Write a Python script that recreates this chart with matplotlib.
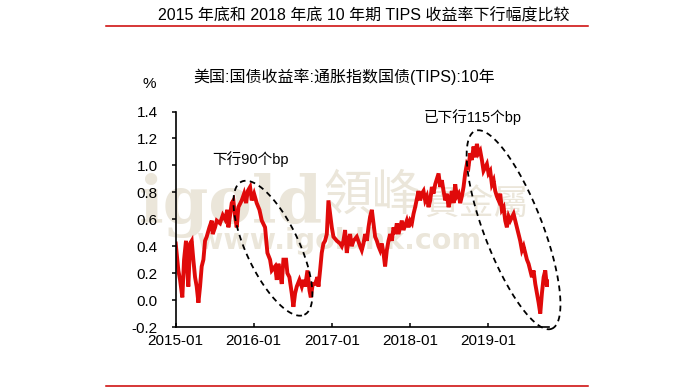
import numpy as np
import pandas as pd
import matplotlib
matplotlib.use("Agg")
import matplotlib.pyplot as plt
import matplotlib.dates as mdates
from matplotlib.lines import Line2D

plt.rcParams['font.family'] = ['Liberation Sans', 'Noto Sans CJK SC']
plt.rcParams['axes.unicode_minus'] = False

# =============================================================================
# Data (decimal year, 10y TIPS yield in %)
# =============================================================================
yrs_2015 = [2015.000, 2015.034, 2015.056, 2015.085, 2015.107, 2015.132, 2015.150,
            2015.162, 2015.184, 2015.205, 2015.226, 2015.248, 2015.269, 2015.291,
            2015.312, 2015.333, 2015.355, 2015.376, 2015.397, 2015.432, 2015.462,
            2015.474, 2015.504, 2015.526, 2015.568, 2015.603, 2015.632, 2015.662,
            2015.675, 2015.697, 2015.718, 2015.739, 2015.761, 2015.782, 2015.803,
            2015.846, 2015.876, 2015.902, 2015.923, 2015.953, 2015.974]
val_2015 = [0.42, 0.22, 0.15, 0.02, 0.30, 0.44, 0.20,
            0.10, 0.42, 0.44, 0.30, 0.17, 0.10, -0.02,
            0.10, 0.25, 0.30, 0.44, 0.47, 0.54, 0.59,
            0.49, 0.54, 0.59, 0.57, 0.63, 0.60, 0.67,
            0.54, 0.63, 0.72, 0.74, 0.62, 0.54, 0.69,
            0.74, 0.79, 0.72, 0.81, 0.84, 0.74]

yrs_2016 = [2016.004, 2016.038, 2016.073, 2016.103, 2016.145, 2016.175, 2016.209,
            2016.231, 2016.273, 2016.295, 2016.316, 2016.337, 2016.359, 2016.380,
            2016.414, 2016.431, 2016.457, 2016.487, 2016.508, 2016.530, 2016.551,
            2016.585, 2016.615, 2016.637, 2016.658, 2016.688, 2016.714, 2016.731,
            2016.756, 2016.786, 2016.816, 2016.829, 2016.850, 2016.871, 2016.893,
            2016.914, 2016.936, 2016.957, 2016.978]
val_2016 = [0.79, 0.72, 0.67, 0.59, 0.54, 0.35, 0.30,
            0.22, 0.25, 0.15, 0.27, 0.20, 0.12, 0.30,
            0.30, 0.20, 0.17, 0.05, -0.05, 0.05, 0.10,
            0.15, 0.10, 0.15, 0.10, 0.22, 0.07, 0.02,
            0.12, 0.12, 0.17, 0.10, 0.22, 0.35, 0.42,
            0.44, 0.49, 0.74, 0.64]

yrs_2017 = [2017.000, 2017.021, 2017.064, 2017.106, 2017.128, 2017.149, 2017.170,
            2017.192, 2017.213, 2017.234, 2017.256, 2017.278, 2017.320, 2017.363,
            2017.384, 2017.406, 2017.427, 2017.449, 2017.470, 2017.491, 2017.513,
            2017.534, 2017.555, 2017.577, 2017.598, 2017.619, 2017.641, 2017.662,
            2017.683, 2017.705, 2017.726, 2017.748, 2017.769, 2017.791, 2017.812,
            2017.833, 2017.855, 2017.876, 2017.897, 2017.919, 2017.961, 2017.983]
val_2017 = [0.54, 0.47, 0.44, 0.42, 0.40, 0.44, 0.52,
            0.35, 0.44, 0.49, 0.40, 0.44, 0.47, 0.40,
            0.37, 0.42, 0.49, 0.44, 0.54, 0.62, 0.67,
            0.57, 0.47, 0.44, 0.40, 0.37, 0.42, 0.35,
            0.25, 0.37, 0.44, 0.49, 0.44, 0.54, 0.49,
            0.57, 0.49, 0.54, 0.59, 0.52, 0.59, 0.54]

yrs_2018 = [2018.004, 2018.026, 2018.047, 2018.068, 2018.111, 2018.132, 2018.154,
            2018.175, 2018.196, 2018.218, 2018.239, 2018.261, 2018.282, 2018.303,
            2018.325, 2018.368, 2018.389, 2018.410, 2018.432, 2018.453, 2018.474,
            2018.496, 2018.517, 2018.538, 2018.560, 2018.581, 2018.602, 2018.624,
            2018.645, 2018.666, 2018.688, 2018.709, 2018.731, 2018.752, 2018.773,
            2018.794, 2018.816, 2018.837, 2018.859, 2018.880, 2018.901, 2018.923,
            2018.944, 2018.987]
val_2018 = [0.59, 0.57, 0.64, 0.69, 0.81, 0.74, 0.79,
            0.81, 0.74, 0.77, 0.69, 0.74, 0.84, 0.79,
            0.86, 0.94, 0.84, 0.89, 0.81, 0.74, 0.79,
            0.69, 0.74, 0.81, 0.72, 0.86, 0.77, 0.79,
            0.72, 0.77, 0.84, 0.94, 1.01, 0.99, 1.09,
            1.04, 1.14, 1.06, 1.16, 1.09, 1.11, 1.04,
            0.96, 1.01]

yrs_2019 = [2019.008, 2019.030, 2019.051, 2019.073, 2019.094, 2019.115, 2019.137,
            2019.158, 2019.179, 2019.201, 2019.222, 2019.243, 2019.265, 2019.286,
            2019.329, 2019.350, 2019.372, 2019.414, 2019.436, 2019.457, 2019.479,
            2019.500, 2019.521, 2019.543, 2019.564, 2019.585, 2019.607, 2019.628,
            2019.650, 2019.671, 2019.692, 2019.714, 2019.735, 2019.756, 2019.778,
            2019.790]
val_2019 = [0.94, 0.96, 0.86, 0.89, 0.81, 0.77, 0.74,
            0.79, 0.67, 0.69, 0.59, 0.54, 0.62, 0.59,
            0.64, 0.59, 0.54, 0.44, 0.37, 0.40, 0.35,
            0.30, 0.27, 0.22, 0.17, 0.22, 0.12, 0.05,
            -0.02, -0.10, 0.05, 0.17, 0.22, 0.10, 0.15,
            0.12]

yrs = np.array(yrs_2015 + yrs_2016 + yrs_2017 + yrs_2018 + yrs_2019)
vals = np.array(val_2015 + val_2016 + val_2017 + val_2018 + val_2019)
dates = pd.Timestamp('2015-01-01') + pd.to_timedelta((yrs - 2015) * 365.25, unit='D')

tick_dates = ['2015-01-01', '2016-01-01', '2017-01-01', '2018-01-01', '2019-01-01']
tick_labels = ['2015-01', '2016-01', '2017-01', '2018-01', '2019-01']
y_ticks = [-0.2, 0.0, 0.2, 0.4, 0.6, 0.8, 1.0, 1.2, 1.4]

# ellipse annotations: centre (date, value), semi axes (px), angle (deg)
ell_centers = [('2016-03-31', 0.385), ('2019-05-01', 0.522)]
ell_axes = [(73.6, 26.4), (106.1, 29.2)]
ell_angles = [-64.7, -68.9]

title = '2015 年底和 2018 年底 10 年期 TIPS 收益率下行幅度比较'
subtitle = '美国:国债收益率:通胀指数国债(TIPS):10年'

# =============================================================================
# Figure
# =============================================================================
fig = plt.figure(figsize=(7, 3.92), dpi=100)
ax = fig.add_axes([0.251, 0.1658, 0.533, 0.5497])

# faint watermark, kept behind the data line
wm = '#ebe6da'
wm_kw = dict(transform=fig.transFigure, clip_on=False, zorder=0.5, color=wm,
             va='center', ha='left')
ax.text(0.198, 0.475, 'igold', fontsize=47, family='DejaVu Serif',
        fontweight='bold', **wm_kw)
ax.text(0.462, 0.50, '領峰', fontsize=35, family='Noto Sans CJK TC', **wm_kw)
ax.text(0.606, 0.478, '貴金屬', fontsize=25, family='Noto Sans CJK TC', **wm_kw)
ax.text(0.282, 0.385, 'www.igoldhk.com', fontsize=20.5, fontweight='bold',
        family='DejaVu Sans', **wm_kw)

ax.plot(dates, vals, color='#e00a0a', linewidth=2.8, solid_joinstyle='miter', zorder=2)

ax.set_xlim(pd.Timestamp('2015-01-01'), pd.Timestamp('2019-10-13'))
ax.set_ylim(-0.2, 1.4)
ax.set_xticks(pd.to_datetime(tick_dates))
ax.set_xticklabels(tick_labels)
ax.set_yticks(y_ticks)
ax.set_yticklabels(['%.1f' % v for v in y_ticks])

for s in ['top', 'right']:
    ax.spines[s].set_visible(False)
for s in ['left', 'bottom']:
    ax.spines[s].set_linewidth(1.2)
ax.tick_params(axis='x', direction='in', length=3, width=1.1, labelsize=11, pad=5)
ax.tick_params(axis='y', direction='out', length=3, width=1.1, labelsize=11, pad=10)

# dashed ellipses
fig.canvas.draw()
tt = np.linspace(0, 2 * np.pi, 200)
for (cd, cv), (a, b), ang in zip(ell_centers, ell_axes, ell_angles):
    cx, cy = ax.transData.transform((mdates.date2num(pd.Timestamp(cd)), cv))
    th = np.deg2rad(ang)
    px = cx + a * np.cos(th) * np.cos(tt) - b * np.sin(th) * np.sin(tt)
    py = cy + a * np.sin(th) * np.cos(tt) + b * np.cos(th) * np.sin(tt)
    pts = ax.transData.inverted().transform(np.column_stack([px, py]))
    ax.plot(pts[:, 0], pts[:, 1], color='black', linewidth=1.3,
            dashes=(3.2, 2.4), clip_on=False, zorder=3)

ax.text(pd.Timestamp('2015-12-17'), 1.05, '下行90个bp', fontsize=10.5,
        ha='center', va='center', zorder=4)
ax.text(pd.Timestamp('2018-10-21'), 1.36, '已下行115个bp', fontsize=10.5,
        ha='center', va='center', zorder=4)

fig.text(0.52, 0.959, title, fontsize=11.5, ha='center', va='center')
fig.text(0.276, 0.803, subtitle, fontsize=11.5, ha='left', va='center')
fig.text(0.2133, 0.786, '%', fontsize=11, ha='center', va='center')

fig.add_artist(Line2D([0.152, 0.840], [0.934, 0.934], color='#cc0000', linewidth=1.1))
fig.add_artist(Line2D([0.152, 0.840], [0.0153, 0.0153], color='#cc0000', linewidth=1.1))

fig.savefig('out.png', dpi=100)
